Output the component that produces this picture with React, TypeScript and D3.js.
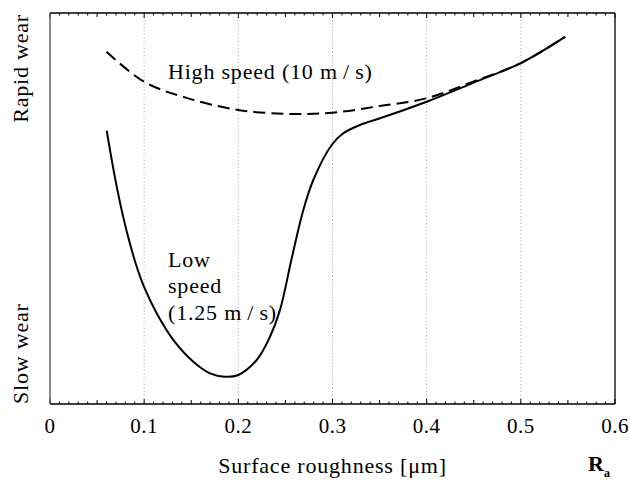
import React from "react";
import * as d3 from "d3";

const lowX = [0.0602, 0.069, 0.0778, 0.085, 0.0921, 0.0998, 0.1133, 0.1309, 0.1522, 0.1699, 0.1858, 0.2, 0.2195, 0.2336, 0.2442, 0.2567, 0.269, 0.2796, 0.2991, 0.3115, 0.3292, 0.3504, 0.4, 0.45, 0.5, 0.547];
const lowY = [0.699, 0.579, 0.478, 0.409, 0.351, 0.3, 0.232, 0.164, 0.108, 0.0785, 0.0698, 0.0742, 0.1125, 0.172, 0.24, 0.3726, 0.496, 0.5729, 0.6624, 0.6923, 0.7136, 0.7307, 0.773, 0.822, 0.872, 0.939];
const highX = [0.06, 0.1, 0.145, 0.2, 0.255, 0.3, 0.35, 0.4, 0.45, 0.5, 0.547];
const highY = [0.901, 0.824, 0.783, 0.752, 0.742, 0.745, 0.762, 0.782, 0.825, 0.872, 0.939];
const xTicks = [0, 0.1, 0.2, 0.3, 0.4, 0.5, 0.6];
const gridTicks = [0.1, 0.2, 0.3, 0.4, 0.5];

const W = 631, H = 481;
const L = 50, R = 615, T = 13, B = 404;
const FONT = "'Liberation Serif', 'DejaVu Serif', serif";

export default function App() {
  const x = d3.scaleLinear().domain([0, 0.6]).range([L, R]);
  const y = d3.scaleLinear().domain([0, 1]).range([B, T]);
  const line = d3.line<[number, number]>().x(d => x(d[0])).y(d => y(d[1])).curve(d3.curveCatmullRom.alpha(0.5));
  const low = line(lowX.map((v, i) => [v, lowY[i]]) as [number, number][]) || "";
  const high = line(highX.map((v, i) => [v, highY[i]]) as [number, number][]) || "";
  const minor = d3.range(0, 61).map(i => i / 100);
  const tickLen = (i: number) => (i % 10 === 0 ? 5 : i % 5 === 0 ? 4 : 2.5);
  const ls = 0.8;

  return (
    <svg width={W} height={H} style={{ position: "absolute", left: 0, top: 0, display: "block", background: "#fff" }} fontFamily={FONT}>
      {gridTicks.map(t => (
        <line key={"g" + t} x1={x(t)} x2={x(t)} y1={T} y2={B} stroke="#8a8a8a" strokeWidth={0.8} strokeDasharray="1,2.5" />
      ))}
      {minor.map((t, i) => (
        <g key={"t" + i}>
          <line x1={x(t)} x2={x(t)} y1={B} y2={B - tickLen(i)} stroke="#000" strokeWidth={1} />
          <line x1={x(t)} x2={x(t)} y1={T} y2={T + tickLen(i)} stroke="#000" strokeWidth={1} />
        </g>
      ))}
      <line x1={L} x2={R} y1={T} y2={T} stroke="#000" strokeWidth={1.3} />
      <line x1={L} x2={R} y1={B} y2={B} stroke="#000" strokeWidth={1.3} />
      <line x1={R} x2={R} y1={T} y2={B} stroke="#000" strokeWidth={1.3} />
      <line x1={L} x2={L} y1={T} y2={B} stroke="#555" strokeWidth={1.4} />
      <path d={high} fill="none" stroke="#000" strokeWidth={2} strokeDasharray="12,6" />
      <path d={low} fill="none" stroke="#000" strokeWidth={2} />
      {xTicks.map(t => (
        <text key={"l" + t} x={x(t)} y={433} textAnchor="middle" fontSize={21} letterSpacing={0.5}>{String(t)}</text>
      ))}
      <text x={(L + R) / 2} y={473} textAnchor="middle" fontSize={22} letterSpacing={ls}>Surface roughness [μm]</text>
      <text x={588} y={471} fontSize={22} fontWeight="bold">R</text>
      <text x={604} y={477} fontSize={12} fontWeight="bold">a</text>
      <text transform={`translate(28,${T + 1}) rotate(-90)`} textAnchor="end" fontSize={22} letterSpacing={ls}>Rapid wear</text>
      <text transform={`translate(28,${B}) rotate(-90)`} textAnchor="start" fontSize={22} letterSpacing={ls}>Slow wear</text>
      <text x={168} y={79} fontSize={22} letterSpacing={ls}>High speed (10 m{"\u2009"}/{"\u2009"}s)</text>
      <text x={168} y={267} fontSize={22} letterSpacing={ls}>Low</text>
      <text x={168} y={293} fontSize={22} letterSpacing={ls}>speed</text>
      <text x={168} y={320} fontSize={22} letterSpacing={ls}>(1.25 m{"\u2009"}/{"\u2009"}s)</text>
    </svg>
  );
}
